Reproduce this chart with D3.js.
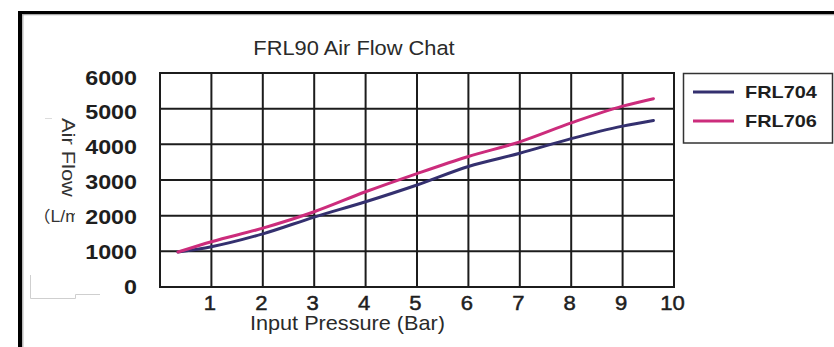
<!DOCTYPE html>
<html>
<head>
<meta charset="utf-8">
<script src="https://cdn.jsdelivr.net/npm/d3@7"></script>
<style>
  html, body { margin: 0; padding: 0; background: #fff; }
  svg { display: block; }
  text { font-family: "Liberation Sans", Arial, "Noto Sans CJK SC", sans-serif; }
</style>
</head>
<body>
<svg id="chart" width="834" height="347"></svg>
<script>
// Air flow vs. input pressure for two regulator models
const pressure = [0.35, 1, 2, 3, 4, 5, 6, 7, 8, 9, 9.6];
const frl704 = [980, 1130, 1490, 1960, 2390, 2860, 3380, 3750, 4160, 4510, 4670];
const frl706 = [980, 1270, 1650, 2110, 2670, 3180, 3660, 4070, 4600, 5070, 5280];
const seriesNames = ["FRL704", "FRL706"];
const seriesColors = ["#34306f", "#cc2c7c"];
const xTicks = [1, 2, 3, 4, 5, 6, 7, 8, 9, 10];
const yTicks = [0, 1000, 2000, 3000, 4000, 5000, 6000];
const gridX = [0, 1, 2, 3, 4, 5, 6, 7, 8, 9, 10];

const svg = d3.select("#chart");

const x = d3.scaleLinear().domain([0, 10]).range([160, 674]);
const y = d3.scaleLinear().domain([0, 6000]).range([287, 73]);
// tick labels sit slightly off the grid rows
const yLabel = d3.scaleLinear().domain([0, 6000]).range([286.5, 77]);

// text drawn with a horizontal stretch
function stretched(g, str, px, py, opts) {
  const t = g.append("text")
    .attr("transform", `translate(${px},${py}) scale(${opts.sx || 1},1)`)
    .attr("font-size", opts.size)
    .attr("font-weight", opts.weight || "normal")
    .attr("fill", opts.fill || "#222")
    .attr("text-anchor", opts.anchor || "start")
    .text(str);
  if (opts.stroke) t.attr("stroke", opts.fill || "#222").attr("stroke-width", opts.stroke);
  return t;
}

// outer frame
svg.append("line").attr("x1", 20).attr("y1", 11).attr("x2", 20).attr("y2", 347)
  .attr("stroke", "#000").attr("stroke-width", 4);
svg.append("line").attr("x1", 18).attr("y1", 12.5).attr("x2", 834).attr("y2", 12.5)
  .attr("stroke", "#000").attr("stroke-width", 3);
svg.append("line").attr("x1", 22.8).attr("y1", 14).attr("x2", 22.8).attr("y2", 347)
  .attr("stroke", "#a8a8a8").attr("stroke-width", 1.2);
svg.append("line").attr("x1", 22).attr("y1", 14.6).attr("x2", 834).attr("y2", 14.6)
  .attr("stroke", "#a8a8a8").attr("stroke-width", 1.2);

// faint leftover guide strokes
svg.append("path").attr("d", "M30.5,275 V298.5 H75.5 V294.5 H100")
  .attr("fill", "none").attr("stroke", "#cfcfcf").attr("stroke-width", 1);
svg.append("line").attr("x1", 45).attr("y1", 118.5).attr("x2", 52).attr("y2", 118.5)
  .attr("stroke", "#dcdcdc").attr("stroke-width", 1);

// title
stretched(svg, "FRL90 Air Flow Chat", 354, 55, { size: 19.5, sx: 1.12, anchor: "middle", fill: "#2a2a2a" });

// grid
const grid = svg.append("g").attr("stroke", "#1c1c1c").attr("stroke-width", 2);
grid.selectAll("line.v").data(gridX).join("line").attr("class", "v")
  .attr("x1", d => x(d)).attr("x2", d => x(d))
  .attr("y1", y(6000) - 1).attr("y2", y(0) + 1);
grid.selectAll("line.h").data(yTicks).join("line").attr("class", "h")
  .attr("x1", x(0) - 1).attr("x2", x(10) + 1)
  .attr("y1", d => y(d)).attr("y2", d => y(d));

// y tick labels
const yl = svg.append("g");
yTicks.forEach(v => {
  stretched(yl, String(v), 137, yLabel(v) + 7.5, { size: 21, weight: "bold", sx: 1.11, anchor: "end", fill: "#1e1e1e" });
});

// x tick labels
const xl = svg.append("g");
xTicks.forEach(v => {
  stretched(xl, String(v), x(v) - 1.5, 310, { size: 21, sx: 1.05, anchor: "middle", fill: "#1e1e1e", stroke: 0.5 });
});

// axis titles
const defs = svg.append("defs");
defs.append("clipPath").attr("id", "xTitleClip")
  .append("rect").attr("x", 200).attr("y", 316).attr("width", 300).attr("height", 30);
defs.append("clipPath").attr("id", "unitClip")
  .append("rect").attr("x", 25).attr("y", 200).attr("width", 50).attr("height", 30);

const xt = svg.append("g").attr("clip-path", "url(#xTitleClip)");
stretched(xt, "Input Pressure (Bar)", 250, 329.5, { size: 20, sx: 1.083, fill: "#2a2a2a" });

svg.append("text")
  .attr("transform", "translate(62,118) rotate(90) scale(1.15,1)")
  .attr("font-size", 19).attr("fill", "#333").text("Air Flow");

const ut = svg.append("g").attr("clip-path", "url(#unitClip)");
ut.append("text")
  .attr("transform", "translate(33,222) scale(1.1,1)")
  .attr("font-size", 16).attr("fill", "#333").text("（L/min）");

// series lines
const line = d3.line()
  .x(d => x(d[0]))
  .y(d => y(d[1]))
  .curve(d3.curveMonotoneX);

[frl704, frl706].forEach((vals, i) => {
  svg.append("path")
    .datum(pressure.map((p, j) => [p, vals[j]]))
    .attr("fill", "none")
    .attr("stroke", seriesColors[i])
    .attr("stroke-width", 3)
    .attr("stroke-linecap", "round")
    .attr("d", line);
});

// legend
const lg = svg.append("g");
lg.append("rect").attr("x", 683.5).attr("y", 73.5).attr("width", 149).attr("height", 69.5)
  .attr("fill", "#fff").attr("stroke", "#333").attr("stroke-width", 1.5);
seriesNames.forEach((name, i) => {
  const ly = 92 + i * 29;
  lg.append("line").attr("x1", 693).attr("x2", 734).attr("y1", ly).attr("y2", ly)
    .attr("stroke", seriesColors[i]).attr("stroke-width", 3);
  stretched(lg, name, 745, ly + 5.5, { size: 17, weight: "bold", sx: 1.17, fill: "#1e1e1e" });
});
</script>
</body>
</html>
